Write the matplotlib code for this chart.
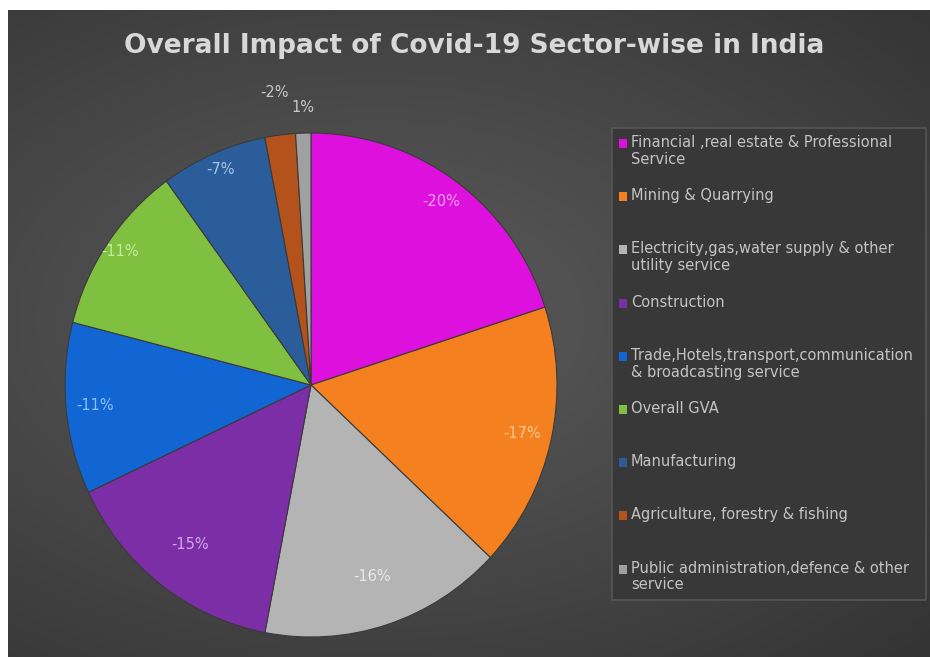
import numpy as np
import matplotlib
matplotlib.use("Agg")
import matplotlib.pyplot as plt
from matplotlib.patches import Rectangle

# sector data, in legend / slice order (clockwise from 12 o'clock)
sectors = [
    "Financial ,real estate & Professional\nService",
    "Mining & Quarrying",
    "Electricity,gas,water supply & other\nutility service",
    "Construction",
    "Trade,Hotels,transport,communication\n& broadcasting service",
    "Overall GVA",
    "Manufacturing",
    "Agriculture, forestry & fishing",
    "Public administration,defence & other\nservice",
]
impact = [-20, -17, -16, -15, -11, -11, -7, -2, 1]
value_labels = ["-20%", "-17%", "-16%", "-15%", "-11%", "-11%", "-7%", "-2%", "1%"]

colors = ["#dd10dd", "#f5801f", "#b4b4b4", "#7b2ea6", "#1266d4",
          "#7fc040", "#2b5d9a", "#b4521c", "#a0a0a0"]
label_colors = ["#f4a0f4", "#ffc890", "#e8e8e8", "#d0a8ee", "#8cc0ff",
                "#c8ec9c", "#a8c4ea", "#c8c8c8", "#c8c8c8"]
label_r = [0.90, 0.88, 0.80, 0.80, 0.88, 0.94, 0.93, 1.17, 1.10]

W, H = 930, 657
fig = plt.figure(figsize=(W / 100, H / 100), dpi=100)
fig.patch.set_facecolor("white")

# dark chart area with soft radial gradient
bg = fig.add_axes([8 / W, 0, 1 - 8 / W, 1 - 10 / H])
yy, xx = np.mgrid[0:1:300j, 0:1:420j]
d = np.sqrt(((xx - 0.40) / 0.9) ** 2 + ((yy - 0.52) / 0.8) ** 2)
shade = np.clip(0.36 - 0.17 * d, 0.19, 0.36)
bg.imshow(np.dstack([shade] * 3), extent=[0, 1, 0, 1], aspect="auto", origin="lower")
bg.set_xlim(0, 1)
bg.set_ylim(0, 1)
bg.axis("off")

fig.text(474 / W, 1 - 46 / H, "Overall Impact of Covid-19 Sector-wise in India",
         ha="center", va="center", fontsize=19, fontweight="bold", color="#d8d8d8")

# pie (slightly taller than wide, like the source image)
cx, cy, rx, ry = 311, 385, 246, 252
ax = fig.add_axes([(cx - rx) / W, 1 - (cy + ry) / H, 2 * rx / W, 2 * ry / H])
wedges, _ = ax.pie(np.abs(impact), colors=colors, startangle=90, counterclock=False,
                   wedgeprops=dict(edgecolor="#3a3a3a", linewidth=0.8))
ax.set_aspect("auto")
ax.set_xlim(-1, 1)
ax.set_ylim(-1, 1)
ax.axis("off")

for w, lab, lc, r in zip(wedges, value_labels, label_colors, label_r):
    ang = np.deg2rad((w.theta1 + w.theta2) / 2)
    ax.text(r * np.cos(ang), r * np.sin(ang), lab, ha="center", va="center",
            fontsize=10.5, color=lc, clip_on=False)

# legend box drawn by hand
leg_x0, leg_x1, leg_y0, leg_y1 = 612, 926, 128, 600
fig.patches.append(Rectangle((leg_x0 / W, 1 - leg_y1 / H), (leg_x1 - leg_x0) / W,
                             (leg_y1 - leg_y0) / H, transform=fig.transFigure,
                             facecolor="#383838", edgecolor="#555555", linewidth=1.2))
for i, (name, c) in enumerate(zip(sectors, colors)):
    y = 143 + i * 53.2
    fig.patches.append(Rectangle((619 / W, 1 - (y + 5) / H), 8 / W, 9 / H,
                                 transform=fig.transFigure, facecolor=c, edgecolor="none"))
    fig.text(631 / W, 1 - (y - 8) / H, name, ha="left", va="top", fontsize=10.5,
             color="#c4c4c4", linespacing=1.15)

fig.savefig("out.png", dpi=100, facecolor=fig.get_facecolor())
